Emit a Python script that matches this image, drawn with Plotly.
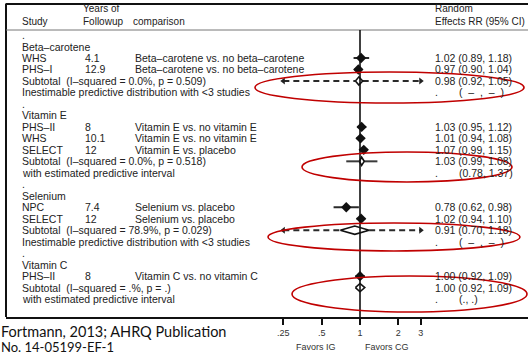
import math
import plotly.graph_objects as go

# ---------------- data ----------------
group_names = ["Beta–carotene", "Vitamin E", "Selenium", "Vitamin C"]
study_group = [0, 0, 1, 1, 1, 2, 2, 3]
study_names = ["WHS", "PHS–I", "PHS–II", "WHS", "SELECT", "NPC", "SELECT", "PHS–II"]
study_years = ["4.1", "12.9", "8", "10.1", "12", "7.4", "12", "8"]
study_comparisons = [
    "Beta–carotene vs. no beta–carotene",
    "Beta–carotene vs. no beta–carotene",
    "Vitamin E vs. no vitamin E",
    "Vitamin E vs. no vitamin E",
    "Vitamin E vs. placebo",
    "Selenium vs. placebo",
    "Selenium vs. placebo",
    "Vitamin C vs. no vitamin C",
]
study_rr = [1.02, 0.97, 1.03, 1.01, 1.07, 0.78, 1.02, 1.00]
study_lo = [0.89, 0.90, 0.95, 0.94, 0.99, 0.62, 0.94, 0.92]
study_hi = [1.18, 1.04, 1.12, 1.08, 1.15, 0.98, 1.10, 1.09]

subtotal_labels = [
    "Subtotal  (I–squared = 0.0%, p = 0.509)",
    "Subtotal  (I–squared = 0.0%, p = 0.518)",
    "Subtotal  (I–squared = 78.9%, p = 0.029)",
    "Subtotal  (I–squared = .%, p = .)",
]
subtotal_rr = [0.98, 1.03, 0.91, 1.00]
subtotal_lo = [0.92, 0.99, 0.70, 0.92]
subtotal_hi = [1.05, 1.08, 1.18, 1.09]

pred_labels = [
    "Inestimable predictive distribution with <3 studies",
    "with estimated predictive interval",
    "Inestimable predictive distribution with <3 studies",
    "with estimated predictive interval",
]
pred_status = ["inestimable", "estimated", "inestimable", "missing"]
pred_lo = [None, 0.78, None, None]
pred_hi = [None, 1.37, None, None]
pred_text = ["(  –  ,  –  )", "(0.78, 1.37)", "(  –  ,  –  )", "(., .)"]

tick_vals = [0.25, 0.5, 1, 2, 3]
tick_text = [".25", ".5", "1", "2", "3"]
null_value = 1

header_cols = ["Study", "Years of<br>Followup", "comparison", "Random<br>Effects RR (95% CI)"]
favors_left = "Favors IG"
favors_right = "Favors CG"
source_lines = ["Fortmann, 2013; AHRQ Publication", "No. 14-05199-EF-1"]

# ---------------- geometry helpers ----------------
W, H = 528, 354
PL, PR, PT, PB = 6, 528, 0, 317
ROW0, ROWH = 35.05, 11.48
X1PX, PXDEC = 360.0, 127.33


def xp(px):
    return (px - PL) / (PR - PL)


def yp(py):
    return (PB - py) / (PB - PT)


FONT = "Liberation Sans, Arial, sans-serif"
TXT = "#222222"
FS = 10.5

# build row layout
rows_text = []  # (row, col_px, text)
study_row = [None] * len(study_names)
sub_row = [None] * len(group_names)
pred_row = [None] * len(group_names)
r = 0
for g, gname in enumerate(group_names):
    rows_text.append((r, 20, "."))
    r += 1
    rows_text.append((r, 20, gname))
    r += 1
    for i, sg in enumerate(study_group):
        if sg == g:
            study_row[i] = r
            rows_text.append((r, 20, study_names[i]))
            rows_text.append((r, 83, study_years[i]))
            rows_text.append((r, 133, study_comparisons[i]))
            rows_text.append((r, 433, f"{study_rr[i]:.2f} ({study_lo[i]:.2f}, {study_hi[i]:.2f})"))
            r += 1
    sub_row[g] = r
    rows_text.append((r, 20, subtotal_labels[g]))
    rows_text.append((r, 433, f"{subtotal_rr[g]:.2f} ({subtotal_lo[g]:.2f}, {subtotal_hi[g]:.2f})"))
    r += 1
    pred_row[g] = r
    rows_text.append((r, 20, pred_labels[g]))
    rows_text.append((r, 433, "."))
    rows_text.append((r, 457, pred_text[g]))
    r += 1

fig = go.Figure()

# study CI lines
cx, cy = [], []
for i in range(len(study_names)):
    cx += [study_lo[i], study_hi[i], None]
    cy += [study_row[i], study_row[i], None]
fig.add_trace(go.Scatter(x=cx, y=cy, mode="lines", line=dict(color="#2a2a2a", width=2),
                         hoverinfo="skip"))

# predictive intervals
axis_min, axis_max = tick_vals[0], tick_vals[-1]
sx, sy, dx, dy = [], [], [], []
ax_, ay_, bx_, by_ = [], [], [], []
for g in range(len(group_names)):
    rr = sub_row[g]
    if pred_status[g] == "estimated":
        sx += [pred_lo[g], subtotal_lo[g], None, subtotal_hi[g], pred_hi[g], None]
        sy += [rr, rr, None, rr, rr, None]
    elif pred_status[g] == "inestimable":
        dx += [axis_min, subtotal_lo[g], None, subtotal_hi[g], axis_max, None]
        dy += [rr, rr, None, rr, rr, None]
        ax_.append(axis_min)
        ay_.append(rr)
        bx_.append(axis_max)
        by_.append(rr)
fig.add_trace(go.Scatter(x=sx, y=sy, mode="lines", line=dict(color="#3a3a3a", width=2),
                         hoverinfo="skip"))
fig.add_trace(go.Scatter(x=dx, y=dy, mode="lines",
                         line=dict(color="#2a2a2a", width=2, dash="6px,4px"), hoverinfo="skip"))
fig.add_trace(go.Scatter(x=ax_, y=ay_, mode="markers",
                         marker=dict(symbol="triangle-left", size=6, color="#222"), hoverinfo="skip"))
fig.add_trace(go.Scatter(x=bx_, y=by_, mode="markers",
                         marker=dict(symbol="triangle-right", size=6, color="#222"), hoverinfo="skip"))

# subtotal diamonds
hh = 0.36
px_, py_ = [], []
for g in range(len(group_names)):
    rr = sub_row[g]
    px_ += [subtotal_lo[g], subtotal_rr[g], subtotal_hi[g], subtotal_rr[g], subtotal_lo[g], None]
    py_ += [rr, rr - hh, rr, rr + hh, rr, None]
fig.add_trace(go.Scatter(x=px_, y=py_, mode="lines", line=dict(color="#111", width=1.6),
                         hoverinfo="skip"))

# study point estimates
fig.add_trace(go.Scatter(x=study_rr, y=study_row, mode="markers",
                         marker=dict(symbol="diamond", size=8, color="#111"), hoverinfo="skip"))

# row texts
for (row, cpx, t) in rows_text:
    fig.add_annotation(x=xp(cpx), xref="paper", y=row, yref="y", text=t, showarrow=False,
                       xanchor="left", yanchor="middle", font=dict(family=FONT, size=FS, color=TXT))

# headers
hdr_x = [20, 81, 131, 433]
for t, hx in zip(header_cols, hdr_x):
    fig.add_annotation(x=xp(hx), xref="paper", y=yp(29), yref="paper", text=t, showarrow=False,
                       xanchor="left", yanchor="bottom", align="left",
                       font=dict(family=FONT, size=10, color=TXT))

# favors labels
fig.add_annotation(x=xp(338), xref="paper", y=yp(347), yref="paper", text=favors_left,
                   showarrow=False, xanchor="right", yanchor="middle",
                   font=dict(family=FONT, size=9, color="#333"))
fig.add_annotation(x=xp(363), xref="paper", y=yp(347), yref="paper", text=favors_right,
                   showarrow=False, xanchor="left", yanchor="middle",
                   font=dict(family=FONT, size=9, color="#333"))

# source
for t, sy_px, fsz in zip(source_lines, [331, 347], [14.5, 13]):
    fig.add_annotation(x=xp(-1), xref="paper", y=yp(sy_px), yref="paper", text=t,
                       showarrow=False, xanchor="left", yanchor="middle",
                       font=dict(family="Lato, Carlito, sans-serif", size=fsz, color="#111"))

# frame lines
shapes = []
shapes.append(dict(type="line", xref="paper", yref="paper", x0=xp(6), x1=xp(6), y0=yp(3.5), y1=yp(317),
                   line=dict(color="#111", width=2)))
shapes.append(dict(type="line", xref="paper", yref="paper", x0=xp(6), x1=xp(528), y0=yp(4), y1=yp(4),
                   line=dict(color="#111", width=2)))
shapes.append(dict(type="line", xref="paper", yref="paper", x0=xp(6), x1=xp(528), y0=yp(30), y1=yp(30),
                   line=dict(color="#777", width=1)))
# null line
shapes.append(dict(type="line", xref="x", yref="paper", x0=null_value, x1=null_value, y0=0, y1=yp(30),
                   line=dict(color="#111", width=1.6)))
# red ellipses
for (x0, x1, y0, y1) in [(255, 524, 72, 103), (302, 512, 152, 182), (268, 520, 223, 251), (292, 527, 276, 312)]:
    shapes.append(dict(type="circle", xref="paper", yref="paper", x0=xp(x0), x1=xp(x1), y0=yp(y1), y1=yp(y0),
                       line=dict(color="#c00000", width=1.6)))

fig.update_layout(
    width=W, height=H,
    margin=dict(l=PL, r=W - PR, t=PT, b=H - PB),
    paper_bgcolor="white", plot_bgcolor="white",
    showlegend=False,
    shapes=shapes,
    xaxis=dict(type="log", range=[(PL - X1PX) / PXDEC, (PR - X1PX) / PXDEC],
               tickvals=tick_vals, ticktext=tick_text, ticks="outside", ticklen=6, tickwidth=1.6,
               tickcolor="#111", showline=True, linecolor="#111", linewidth=1.6,
               showgrid=False, zeroline=False, fixedrange=True,
               tickfont=dict(family=FONT, size=9, color="#333")),
    yaxis=dict(range=[(PB - ROW0) / ROWH, (PT - ROW0) / ROWH], visible=False, fixedrange=True),
)

fig.write_html("out.html")
